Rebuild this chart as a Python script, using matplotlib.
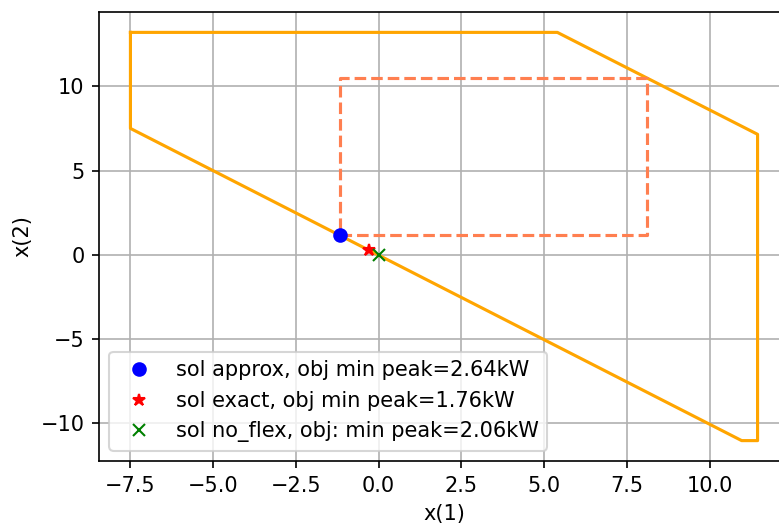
import matplotlib
matplotlib.use('Agg')
import matplotlib.pyplot as plt

# ----------------
# DATA
# ----------------

# feasible region polygon (closed)
poly_x1 = [-7.5, 5.4, 11.45, 11.45, 10.97, -7.5, -7.5]
poly_x2 = [13.2, 13.2, 7.15, -11.03, -11.03, 7.5, 13.2]

# approx box (closed)
box_x1 = [-1.17, 8.12, 8.12, -1.17, -1.17]
box_x2 = [1.17, 1.17, 10.48, 10.48, 1.17]

sol_approx = (-1.17, 1.17)
sol_exact = (-0.29, 0.3)
sol_noflex = (0.0, 0.0)

lbl_approx = 'sol approx, obj min peak=2.64kW'
lbl_exact = 'sol exact, obj min peak=1.76kW'
lbl_noflex = 'sol no_flex, obj: min peak=2.06kW'

# ----------------
# PLOT
# ----------------

dpi = 150
fig = plt.figure(figsize=(779 / dpi, 524 / dpi), dpi=dpi)
# axes extends a little past the right edge, as in the reference
ax = fig.add_axes([99 / 779, (524 - 461) / 524, (789 - 99) / 779, (461 - 12) / 524])

ax.plot(poly_x1, poly_x2, color='orange')
ax.plot(box_x1, box_x2, color='coral', linestyle='--')
ax.plot(*sol_approx, 'bo', label=lbl_approx)
ax.plot(*sol_exact, 'r*', label=lbl_exact)
ax.plot(*sol_noflex, 'gx', label=lbl_noflex)

ax.set_xlim(-8.45, 12.4)
ax.set_ylim(-12.24, 14.41)
ax.set_xlabel('x(1)')
ax.set_ylabel('x(2)')
ax.grid(True)
ax.legend(loc='lower left')

fig.savefig('out.png', dpi=dpi)
plt.close(fig)
